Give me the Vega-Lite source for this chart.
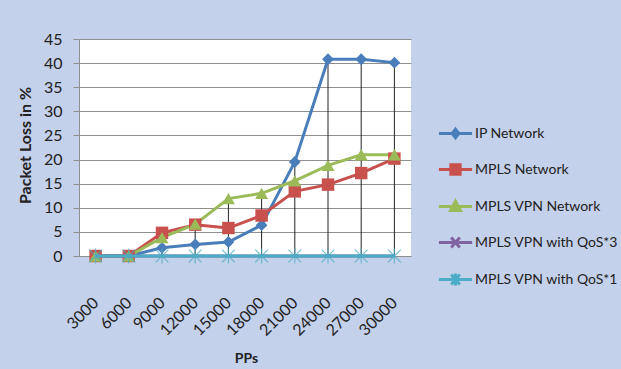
{
  "$schema": "https://vega.github.io/schema/vega-lite/v6.json",
  "autosize": {"type": "none"},
  "width": 332,
  "height": 217,
  "padding": {"left": 79, "top": 39, "right": 210, "bottom": 113},
  "background": "#c3d1ea",
  "config": {
    "view": {"fill": "white", "stroke": null},
    "font": "Lato"
  },
  "data": {
    "values": [
      {"PPs": 3000, "series": "IP Network", "value": 0},
      {"PPs": 6000, "series": "IP Network", "value": 0},
      {"PPs": 9000, "series": "IP Network", "value": 1.7},
      {"PPs": 12000, "series": "IP Network", "value": 2.4},
      {"PPs": 15000, "series": "IP Network", "value": 2.9},
      {"PPs": 18000, "series": "IP Network", "value": 6.4},
      {"PPs": 21000, "series": "IP Network", "value": 19.5},
      {"PPs": 24000, "series": "IP Network", "value": 40.8},
      {"PPs": 27000, "series": "IP Network", "value": 40.8},
      {"PPs": 30000, "series": "IP Network", "value": 40.1},
      {"PPs": 3000, "series": "MPLS Network", "value": 0},
      {"PPs": 6000, "series": "MPLS Network", "value": 0},
      {"PPs": 9000, "series": "MPLS Network", "value": 4.8},
      {"PPs": 12000, "series": "MPLS Network", "value": 6.5},
      {"PPs": 15000, "series": "MPLS Network", "value": 5.8},
      {"PPs": 18000, "series": "MPLS Network", "value": 8.4},
      {"PPs": 21000, "series": "MPLS Network", "value": 13.4},
      {"PPs": 24000, "series": "MPLS Network", "value": 14.8},
      {"PPs": 27000, "series": "MPLS Network", "value": 17.2},
      {"PPs": 30000, "series": "MPLS Network", "value": 20.2},
      {"PPs": 3000, "series": "MPLS VPN Network", "value": 0},
      {"PPs": 6000, "series": "MPLS VPN Network", "value": 0},
      {"PPs": 9000, "series": "MPLS VPN Network", "value": 3.8},
      {"PPs": 12000, "series": "MPLS VPN Network", "value": 6.6},
      {"PPs": 15000, "series": "MPLS VPN Network", "value": 11.9},
      {"PPs": 18000, "series": "MPLS VPN Network", "value": 13},
      {"PPs": 21000, "series": "MPLS VPN Network", "value": 15.6},
      {"PPs": 24000, "series": "MPLS VPN Network", "value": 18.8},
      {"PPs": 27000, "series": "MPLS VPN Network", "value": 21},
      {"PPs": 30000, "series": "MPLS VPN Network", "value": 21},
      {"PPs": 3000, "series": "MPLS VPN with QoS*3", "value": 0},
      {"PPs": 6000, "series": "MPLS VPN with QoS*3", "value": 0},
      {"PPs": 9000, "series": "MPLS VPN with QoS*3", "value": 0},
      {"PPs": 12000, "series": "MPLS VPN with QoS*3", "value": 0},
      {"PPs": 15000, "series": "MPLS VPN with QoS*3", "value": 0},
      {"PPs": 18000, "series": "MPLS VPN with QoS*3", "value": 0},
      {"PPs": 21000, "series": "MPLS VPN with QoS*3", "value": 0},
      {"PPs": 24000, "series": "MPLS VPN with QoS*3", "value": 0},
      {"PPs": 27000, "series": "MPLS VPN with QoS*3", "value": 0},
      {"PPs": 30000, "series": "MPLS VPN with QoS*3", "value": 0},
      {"PPs": 3000, "series": "MPLS VPN with QoS*1", "value": 0},
      {"PPs": 6000, "series": "MPLS VPN with QoS*1", "value": 0},
      {"PPs": 9000, "series": "MPLS VPN with QoS*1", "value": 0},
      {"PPs": 12000, "series": "MPLS VPN with QoS*1", "value": 0},
      {"PPs": 15000, "series": "MPLS VPN with QoS*1", "value": 0},
      {"PPs": 18000, "series": "MPLS VPN with QoS*1", "value": 0},
      {"PPs": 21000, "series": "MPLS VPN with QoS*1", "value": 0},
      {"PPs": 24000, "series": "MPLS VPN with QoS*1", "value": 0},
      {"PPs": 27000, "series": "MPLS VPN with QoS*1", "value": 0},
      {"PPs": 30000, "series": "MPLS VPN with QoS*1", "value": 0}
    ]
  },
  "encoding": {
    "x": {
      "field": "PPs",
      "type": "ordinal",
      "scale": {"type": "point", "padding": 0.5},
      "axis": {
        "title": "PPs",
        "titleFont": "Lato",
        "titleFontSize": 14,
        "titleFontWeight": "bold",
        "titleColor": "#222",
        "titleX": 167,
        "titleY": 102,
        "titleBaseline": "middle",
        "labelAngle": -45,
        "labelAlign": "right",
        "labelBaseline": "middle",
        "labelPadding": 44,
        "labelDx": -3,
        "labelFontSize": 16,
        "labelColor": "#222",
        "ticks": false,
        "domainColor": "#8f8f8f",
        "grid": false
      }
    },
    "y": {
      "field": "value",
      "type": "quantitative",
      "scale": {"domain": [0, 45], "nice": false},
      "axis": {
        "title": "Packet Loss in %",
        "titleFont": "Lato",
        "titleFontSize": 16,
        "titleFontWeight": "bold",
        "titleColor": "#222",
        "titleX": -54,
        "titleY": 106,
        "titleAngle": -90,
        "titleAlign": "center",
        "titleBaseline": "middle",
        "values": [0, 5, 10, 15, 20, 25, 30, 35, 40, 45],
        "labelFontSize": 16,
        "labelColor": "#222",
        "labelPadding": 11,
        "tickSize": 6,
        "tickColor": "#8f8f8f",
        "domainColor": "#8f8f8f",
        "gridColor": "#8f8f8f",
        "gridOpacity": 1
      }
    }
  },
  "layer": [
    {
      "transform": [
        {"aggregate": [{"op": "max", "field": "value", "as": "maxv"}], "groupby": ["PPs"]}
      ],
      "mark": {"type": "rule", "color": "#222", "strokeWidth": 1},
      "encoding": {
        "y": {"field": "maxv", "type": "quantitative"},
        "y2": {"datum": 0}
      }
    },
    {
      "transform": [{"filter": "indexof(['IP Network','MPLS Network','MPLS VPN Network'], datum.series) >= 0"}],
      "mark": {"type": "line", "strokeWidth": 3},
      "encoding": {
        "color": {
          "field": "series",
          "type": "nominal",
          "scale": {
            "domain": ["IP Network", "MPLS Network", "MPLS VPN Network", "MPLS VPN with QoS*3", "MPLS VPN with QoS*1"],
            "range": ["#4a7ebb", "#c8504d", "#9bbb59", "#8064a2", "#4bacc6"]
          },
          "legend": {
            "title": null,
            "orient": "none",
            "legendX": 358,
            "legendY": 76,
            "labelFont": "Lato",
            "labelFontSize": 14,
            "labelColor": "#222",
            "labelOffset": 1,
            "labelLimit": 400,
            "rowPadding": 7,
            "symbolSize": 1100,
            "symbolStrokeWidth": 3,
            "encode": {
              "symbols": {
                "update": {
                  "shape": {"signal": "datum.value == 'IP Network' ? 'M-1,0H1M0,-0.26L0.2,0L0,0.26L-0.2,0Z' : datum.value == 'MPLS Network' ? 'M-1,0H1M-0.28,-0.28H0.28V0.28H-0.28Z' : datum.value == 'MPLS VPN Network' ? 'M-1,0H1M0,-0.32L0.3,0.24H-0.3Z' : datum.value == 'MPLS VPN with QoS*3' ? 'M-1,0H1M-0.26,-0.3L0.26,0.3M-0.26,0.3L0.26,-0.3' : 'M-1,0H1M-0.26,-0.3L0.26,0.3M-0.26,0.3L0.26,-0.3M0,-0.36V0.36'"},
                  "fill": {"scale": "color", "field": "value"},
                  "strokeWidth": {"value": 3}
                }
              }
            }
          }
        }
      }
    },
    {
      "transform": [{"filter": "indexof(['IP Network','MPLS Network','MPLS VPN Network'], datum.series) >= 0"}],
      "mark": {"type": "point", "filled": true, "opacity": 1},
      "encoding": {
        "color": {"field": "series", "type": "nominal"},
        "shape": {
          "field": "series",
          "type": "nominal",
          "scale": {"domain": ["IP Network", "MPLS Network", "MPLS VPN Network"], "range": ["diamond", "square", "triangle-up"]},
          "legend": null
        },
        "size": {
          "field": "series",
          "type": "nominal",
          "scale": {"domain": ["IP Network", "MPLS Network", "MPLS VPN Network"], "range": [140, 170, 170]},
          "legend": null
        }
      }
    },
    {
      "transform": [{"filter": "indexof(['MPLS VPN with QoS*3','MPLS VPN with QoS*1'], datum.series) >= 0"}],
      "mark": {"type": "line", "strokeWidth": 3},
      "encoding": {
        "color": {"field": "series", "type": "nominal"}
      }
    },
    {
      "transform": [{"filter": "datum.series == 'MPLS VPN with QoS*1'"}],
      "mark": {"type": "point", "filled": false, "strokeWidth": 1.2, "opacity": 0.75, "size": 160, "shape": "M-1,-1L1,1M-1,1L1,-1M0,-1.2V1.2"},
      "encoding": {
        "color": {"field": "series", "type": "nominal"}
      }
    }
  ]
}
